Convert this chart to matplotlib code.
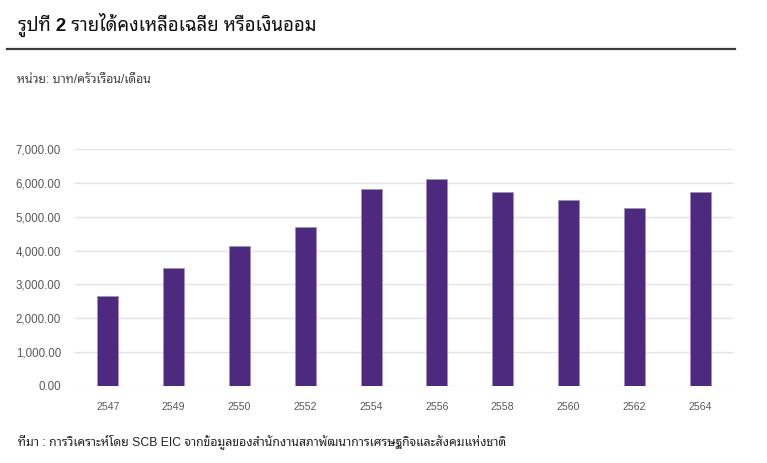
import matplotlib
matplotlib.use("Agg")
import matplotlib.pyplot as plt
from matplotlib.lines import Line2D

years = ["2547", "2549", "2550", "2552", "2554", "2556", "2558", "2560", "2562", "2564"]
savings = [2655, 3475, 4145, 4690, 5825, 6120, 5745, 5505, 5270, 5725]
yticks = [0, 1000, 2000, 3000, 4000, 5000, 6000, 7000]

thai = ["Liberation Sans", "Noto Sans Thai Looped"]
plt.rcParams["font.family"] = thai

fig = plt.figure(figsize=(7.67, 4.63), dpi=100)
ax = fig.add_axes([75 / 767, 1 - 385.7 / 463, (733 - 75) / 767, (385.7 - 149.3) / 463])

x = range(len(years))
ax.bar(x, savings, width=0.32, color="#4e2a7e", edgecolor="#a08cc4", linewidth=0.5, zorder=3)

ax.set_xlim(-0.5, len(years) - 0.5)
ax.set_ylim(0, 7000)
ax.set_yticks(yticks)
ax.set_yticklabels(["{:,.2f}".format(v) for v in yticks])
ax.set_xticks(list(x))
ax.set_xticklabels(years)
ax.grid(axis="y", color="#e3e3e3", linewidth=1, zorder=0)
for s in ax.spines.values():
    s.set_visible(False)
ax.tick_params(axis="both", length=0, colors="#595959")
ax.tick_params(axis="y", labelsize=8.3, pad=10)
ax.tick_params(axis="x", labelsize=7.6, pad=12)

# header
fig.text(18 / 767, 1 - 25 / 463, "รูปที่ 2 รายได้คงเหลือเฉลี่ย หรือเงินออม",
         fontsize=13.3, fontweight="bold", va="center", ha="left", color="#111111")
fig.add_artist(Line2D([7 / 767, 735 / 767], [1 - 48.5 / 463] * 2, color="#3a3a3a", linewidth=1.6,
                      transform=fig.transFigure))
fig.text(17 / 767, 1 - 80 / 463, "หน่วย: บาท/ครัวเรือน/เดือน", fontsize=8.8, va="center", ha="left",
         color="#404040")

# footer
fig.text(18 / 767, 1 - 441.5 / 463,
         "ที่มา : การวิเคราะห์โดย SCB EIC จากข้อมูลของสำนักงานสภาพัฒนาการเศรษฐกิจและสังคมแห่งชาติ",
         fontsize=8.8, va="center", ha="left", color="#222222")

fig.savefig("out.png")
